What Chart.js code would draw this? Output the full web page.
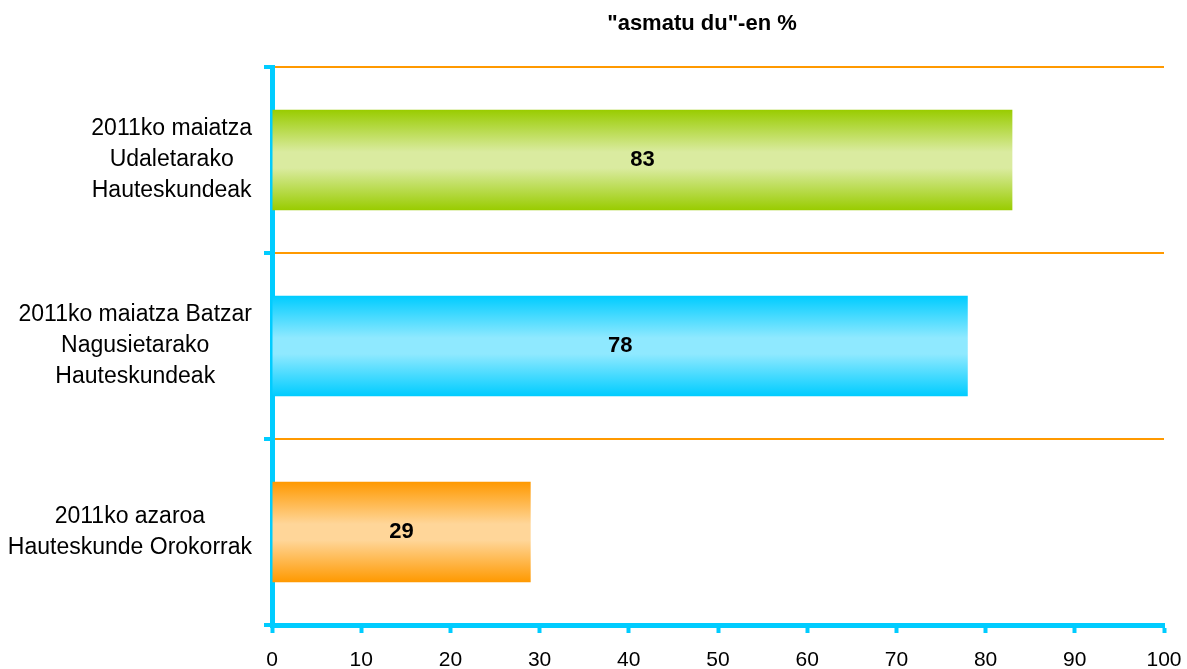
<!DOCTYPE html>
<html lang="eu">
<head>
  <meta charset="UTF-8">
  <title>"asmatu du"-en %</title>
  <script src="https://cdn.jsdelivr.net/npm/chart.js"></script>
  <style>
    body { margin: 0; background: #fff; }
    .wrap { width: 1187px; height: 669px; position: relative; }
  </style>
</head>
<body>
  <div class="wrap"><canvas id="chart"></canvas></div>

  <script>
    // chart data
    const categories = [
      ['2011ko maiatza', 'Udaletarako', 'Hauteskundeak'],
      ['2011ko maiatza Batzar', 'Nagusietarako', 'Hauteskundeak'],
      ['2011ko azaroa', 'Hauteskunde Orokorrak']
    ];
    const values = [83, 78, 29];
    const titleText = '"asmatu du"-en %';
    const edgeColors = ['#99CC00', '#00CCFF', '#FF9900'];
    const midColors = ['#DAEBA0', '#8FE9FF', '#FFD699'];

    const FONT = '"Liberation Sans", Arial, sans-serif';
    const AXIS = '#00CCFF';
    const BAR_PCT = 0.54;

    // vertical gradient per bar: strong at edges, pale in the middle
    function barFill(ctx) {
      const chart = ctx.chart;
      const i = ctx.dataIndex;
      const s = chart.scales.y;
      if (!chart.chartArea || !s || i === undefined) return edgeColors[i || 0];
      const yc = s.getPixelForValue(i);
      const half = (s.height / values.length) * BAR_PCT / 2;
      const g = chart.ctx.createLinearGradient(0, yc - half, 0, yc + half);
      g.addColorStop(0, edgeColors[i]);
      g.addColorStop(0.42, midColors[i]);
      g.addColorStop(0.58, midColors[i]);
      g.addColorStop(1, edgeColors[i]);
      return g;
    }

    // title, category labels (centred lines, right-aligned blocks) and bar values
    const textPlugin = {
      id: 'texts',
      afterDraw(chart) {
        const c = chart.ctx;
        const ys = chart.scales.y;
        c.save();
        c.fillStyle = '#000';
        c.textBaseline = 'middle';
        c.textAlign = 'center';

        c.font = 'bold 22px ' + FONT;
        c.fillText(titleText, 702, 24);

        c.font = '23px ' + FONT;
        const lineH = 31;
        categories.forEach((lines, i) => {
          const w = Math.max(...lines.map(l => c.measureText(l).width));
          const cx = 252 - w / 2;
          const yc = ys.getPixelForValue(i);
          const top = yc - (lines.length - 1) * lineH / 2;
          lines.forEach((l, k) => c.fillText(l, cx, top + k * lineH));
        });

        c.font = 'bold 22px ' + FONT;
        chart.getDatasetMeta(0).data.forEach((bar, i) => {
          c.fillText(String(values[i]), (bar.base + bar.x) / 2, bar.y);
        });
        c.restore();
      }
    };

    new Chart(document.getElementById('chart'), {
      type: 'bar',
      data: {
        labels: categories,
        datasets: [{
          data: values,
          backgroundColor: barFill,
          borderWidth: 0,
          barPercentage: BAR_PCT,
          categoryPercentage: 1
        }]
      },
      options: {
        indexAxis: 'y',
        responsive: true,
        maintainAspectRatio: false,
        animation: false,
        layout: { padding: { top: 67, right: 23, left: 0, bottom: 0 } },
        plugins: {
          legend: { display: false },
          title: { display: false },
          tooltip: { enabled: false }
        },
        scales: {
          x: {
            min: 0,
            max: 100,
            ticks: {
              stepSize: 10,
              color: '#000',
              padding: 15,
              font: { family: FONT, size: 21 }
            },
            grid: {
              drawOnChartArea: false,
              drawTicks: true,
              tickLength: 8,
              tickColor: AXIS,
              tickWidth: 4
            },
            border: { color: AXIS, width: 5 },
            afterFit(s) {
              s.height = 44;
              s.paddingLeft = 0;
              s.paddingRight = 0;
            }
          },
          y: {
            ticks: { display: false },
            grid: {
              color: '#FF9900',
              lineWidth: 2,
              drawTicks: true,
              tickLength: 8,
              tickColor: AXIS,
              tickWidth: 4
            },
            border: { color: AXIS, width: 5 },
            afterFit(s) { s.width = 272; }
          }
        }
      },
      plugins: [textPlugin]
    });
  </script>
</body>
</html>
